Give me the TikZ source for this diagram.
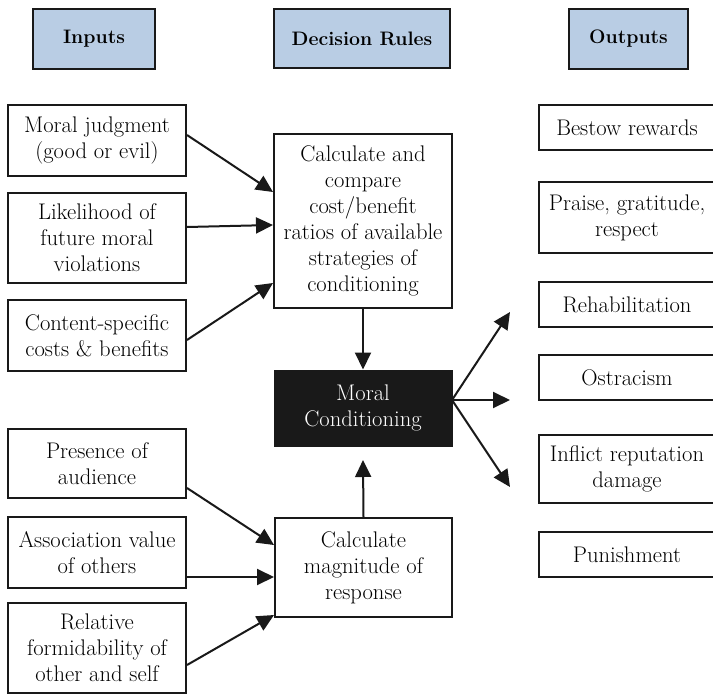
\documentclass[tikz,border=0pt]{standalone}
\usetikzlibrary{arrows.meta}
\definecolor{hdrblue}{RGB}{185,205,228}
\definecolor{ink}{RGB}{25,25,25}
\tikzset{
  hdr/.style={draw=ink, line width=2.6pt, fill=hdrblue, inner sep=0pt, align=center,
    font=\fontsize{19.5}{24}\selectfont\bfseries},
  box/.style={draw=ink, line width=2pt, fill=white, inner sep=0pt, align=center,
    font=\fontsize{22.6}{26}\selectfont},
  blackbox/.style={draw=ink, line width=1pt, fill=ink, text=white, inner sep=0pt, align=center,
    font=\fontsize{22.6}{26}\selectfont},
  arr/.style={draw=ink, line width=2pt, -{Triangle[length=17pt,width=16pt]}},
}
\begin{document}
\begin{tikzpicture}[x=1pt,y=-1pt]
\clip (0,0) rectangle (713,694);
\fill[white] (0,0) rectangle (713,694);
% headers
\node[hdr, minimum width=122pt, minimum height=60pt] (inH) at (94,39) {Inputs};
\node[hdr, minimum width=176pt, minimum height=59pt] (ruH) at (362,38.5) {Decision Rules};
\node[hdr, minimum width=119pt, minimum height=60pt] (ouH) at (628.5,39) {Outputs};
% inputs
\node[box, minimum width=178pt, minimum height=71pt] (mj) at (97,140.5) {Moral judgment\\(good or evil)};
\node[box, minimum width=178pt, minimum height=90pt] (lk) at (97,238) {Likelihood of\\future moral\\violations};
\node[box, minimum width=178pt, minimum height=71pt] (cs) at (97,335.5) {Content-specific\\costs \& benefits};
\node[box, minimum width=178pt, minimum height=69pt] (pa) at (97,463.5) {Presence of\\audience};
\node[box, minimum width=178pt, minimum height=71pt] (av) at (97,552.5) {Association value\\of others};
\node[box, minimum width=178pt, minimum height=90pt] (rf) at (97,648) {Relative\\formidability of\\other and self};
% decision rules
\node[box, minimum width=178pt, minimum height=174pt] (calc) at (363,221) {Calculate and\\compare\\cost/benefit\\ratios of available\\strategies of\\conditioning};
\node[blackbox, minimum width=178pt, minimum height=76pt] (mc) at (363,408) {Moral\\Conditioning};
\node[box, minimum width=177pt, minimum height=99pt] (mag) at (363.5,567.5) {Calculate\\magnitude of\\response};
% outputs
\node[box, minimum width=176pt, minimum height=45pt] (br) at (627,127.5) {Bestow rewards};
\node[box, minimum width=176pt, minimum height=71pt] (pr) at (627,217.5) {Praise, gratitude,\\respect};
\node[box, minimum width=176pt, minimum height=45pt] (rh) at (627,304.5) {Rehabilitation};
\node[box, minimum width=176pt, minimum height=45pt] (os) at (627,377.5) {Ostracism};
\node[box, minimum width=176pt, minimum height=68pt] (ir) at (627,469) {Inflict reputation\\damage};
\node[box, minimum width=176pt, minimum height=45pt] (pu) at (627,554.5) {Punishment};
% free ends
\coordinate (mcout) at (452,400);
\coordinate (upend) at (363,460);
\coordinate (o1) at (510,312);
\coordinate (o2) at (510,400);
\coordinate (o3) at (510,487);
% connectors: inputs to calc
\draw[arr] ([yshift=5.5pt]mj.east) -- ([yshift=29pt]calc.west);
\draw[arr] ([yshift=11pt]lk.east) -- ([yshift=-4pt]calc.west);
\draw[arr] ([yshift=-4.5pt]cs.east) -- ([yshift=-62pt]calc.west);
% inputs to magnitude
\draw[arr] ([yshift=-24.5pt]pa.east) -- ([yshift=22.5pt]mag.west);
\draw[arr] ([yshift=-24.5pt]av.east) -- ([yshift=-9.5pt]mag.west);
\draw[arr] ([yshift=-17pt]rf.east) -- ([yshift=-47.5pt]mag.west);
% vertical
\draw[arr] (calc.south) -- (mc.north);
\draw[arr] (mag.north) -- (upend);
% outputs
\draw[arr] (mcout) -- (o1);
\draw[arr] (mcout) -- (o2);
\draw[arr] (mcout) -- (o3);
\end{tikzpicture}
\end{document}
